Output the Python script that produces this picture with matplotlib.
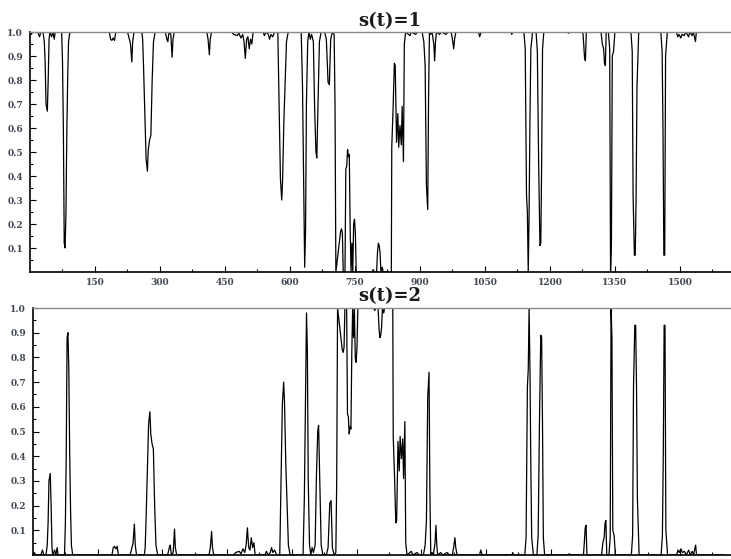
import numpy as np
import matplotlib
matplotlib.use('Agg')
import matplotlib.pyplot as plt

# time index of the breakpoints
t_points = [
    0, 3, 6, 18, 22, 25, 30, 33, 35, 37, 40, 42, 44, 46, 50, 53, 56, 58,
    73, 75, 77, 79, 81, 83, 85, 87, 89, 92,
    183, 186, 189, 192, 195, 198, 225, 228, 232, 235, 237, 240,
    258, 260, 262, 265, 268, 271, 273, 276, 279, 282, 285, 289,
    312, 316, 318, 321, 325, 328, 330, 333, 408, 411, 414, 416, 419,
    465, 470, 478, 482, 487, 491, 494, 497, 500, 503, 506, 509, 512, 515,
    538, 541, 545, 550, 553, 556, 560, 565,
    572, 575, 578, 581, 583, 586, 589, 592, 596,
    626, 629, 632, 634, 636, 638, 641, 644, 647, 650,
    654, 657, 660, 662, 665, 668, 672, 680, 684, 688, 691, 694, 698,
    702, 704, 706, 717, 719, 721, 723, 727, 729, 731, 733, 735, 737,
    739, 741, 743, 745, 747, 749, 751, 753, 790, 792, 795,
    800, 802, 804, 806, 808, 810, 813, 815,
    834, 835, 838, 841, 843, 846, 849, 851, 854, 857, 859, 862, 864, 867,
    877, 880, 890, 895, 905, 909, 912, 915, 918, 920, 922, 925, 928,
    932, 934, 936, 938, 945, 950, 960, 965, 972, 975, 978, 980, 983,
    1035, 1038, 1041, 1110, 1112, 1114,
    1140, 1143, 1146, 1148, 1150, 1152, 1154, 1156, 1160,
    1168, 1171, 1174, 1177, 1179, 1181, 1183, 1186,
    1240, 1243, 1246, 1276, 1278, 1280, 1282, 1284,
    1318, 1321, 1324, 1326, 1328, 1330,
    1335, 1338, 1340, 1342, 1344, 1347, 1350,
    1387, 1390, 1392, 1395, 1397, 1399, 1401, 1405,
    1456, 1459, 1461, 1463, 1465, 1467, 1471,
    1492, 1495, 1498, 1502, 1505, 1510, 1514, 1520, 1523, 1528, 1531,
    1536, 1538, 1600,
]

# probability of regime s(t)=1
prob_s1 = [
    1.0, 0.99, 1.0, 1.0, 0.98, 1.0, 1.0, 0.96, 0.87, 0.70, 0.67, 0.80, 0.97, 1.0, 0.98, 1.0, 0.97, 1.0,
    1.0, 0.88, 0.60, 0.12, 0.10, 0.25, 0.58, 0.81, 0.96, 1.0,
    1.0, 0.97, 0.965, 0.975, 0.965, 1.0, 1.0, 0.98, 0.95, 0.875, 0.96, 1.0,
    1.0, 0.97, 0.86, 0.66, 0.47, 0.42, 0.51, 0.55, 0.57, 0.80, 0.96, 1.0,
    1.0, 0.97, 0.96, 1.0, 0.99, 0.895, 0.97, 1.0, 1.0, 0.97, 0.905, 0.97, 1.0,
    1.0, 0.99, 0.985, 0.995, 0.975, 0.99, 0.96, 0.89, 0.97, 0.98, 0.93, 0.97, 0.95, 1.0,
    1.0, 0.985, 1.0, 0.99, 0.97, 0.99, 0.98, 1.0,
    1.0, 0.70, 0.39, 0.30, 0.38, 0.63, 0.80, 0.96, 1.0,
    1.0, 0.77, 0.30, 0.02, 0.17, 0.70, 0.96, 1.0, 0.97, 0.99,
    0.96, 0.68, 0.50, 0.475, 0.72, 0.96, 1.0, 1.0, 0.97, 0.79, 0.78, 0.97, 1.0,
    0.99, 0.70, 0.0, 0.17, 0.18, 0.16, 0.0, 0.0, 0.43, 0.44, 0.51, 0.48, 0.49,
    0.18, 0.0, 0.12, 0.0, 0.20, 0.22, 0.16, 0.0, 0.0, 0.01, 0.0,
    0.0, 0.08, 0.12, 0.11, 0.08, 0.0, 0.02, 0.0,
    0.0, 0.52, 0.68, 0.87, 0.86, 0.54, 0.66, 0.52, 0.61, 0.53, 0.69, 0.46, 0.95, 1.0,
    0.985, 1.0, 0.99, 1.0, 1.0, 0.96, 0.86, 0.36, 0.26, 0.74, 1.0, 0.99, 1.0,
    0.95, 0.88, 0.96, 1.0, 0.99, 1.0, 0.99, 1.0, 1.0, 0.97, 0.93, 0.97, 1.0,
    1.0, 0.98, 1.0, 1.0, 0.99, 1.0,
    1.0, 0.93, 0.32, 0.25, 0.0, 0.25, 0.64, 0.93, 1.0,
    1.0, 0.92, 0.46, 0.11, 0.12, 0.46, 0.93, 1.0,
    1.0, 0.995, 1.0, 1.0, 0.95, 0.89, 0.88, 1.0,
    1.0, 0.95, 0.93, 0.87, 0.86, 1.0,
    1.0, 0.93, 0.0, 0.12, 0.90, 0.92, 1.0,
    1.0, 0.92, 0.32, 0.07, 0.07, 0.32, 0.77, 1.0,
    1.0, 0.92, 0.60, 0.07, 0.07, 0.90, 1.0,
    1.0, 0.98, 0.99, 0.975, 0.99, 0.985, 1.0, 0.98, 1.0, 0.985, 1.0,
    0.96, 1.0, 1.0,
]

# probability of regime s(t)=2
prob_s2 = [
    0.0, 0.01, 0.0, 0.0, 0.02, 0.0, 0.0, 0.04, 0.13, 0.30, 0.33, 0.20, 0.03, 0.0, 0.02, 0.0, 0.03, 0.0,
    0.0, 0.12, 0.40, 0.88, 0.90, 0.75, 0.42, 0.19, 0.04, 0.0,
    0.0, 0.03, 0.035, 0.025, 0.035, 0.0, 0.0, 0.02, 0.05, 0.125, 0.04, 0.0,
    0.0, 0.03, 0.14, 0.34, 0.53, 0.58, 0.49, 0.45, 0.43, 0.20, 0.04, 0.0,
    0.0, 0.03, 0.04, 0.0, 0.01, 0.105, 0.03, 0.0, 0.0, 0.03, 0.095, 0.03, 0.0,
    0.0, 0.01, 0.015, 0.005, 0.025, 0.01, 0.04, 0.11, 0.03, 0.02, 0.07, 0.03, 0.05, 0.0,
    0.0, 0.015, 0.0, 0.01, 0.03, 0.01, 0.02, 0.0,
    0.0, 0.30, 0.61, 0.70, 0.62, 0.37, 0.20, 0.04, 0.0,
    0.0, 0.23, 0.70, 0.98, 0.83, 0.30, 0.04, 0.0, 0.03, 0.01,
    0.04, 0.32, 0.50, 0.525, 0.28, 0.04, 0.0, 0.0, 0.03, 0.21, 0.22, 0.03, 0.0,
    0.01, 0.30, 1.0, 0.83, 0.82, 0.84, 1.0, 1.0, 0.57, 0.56, 0.49, 0.52, 0.51,
    0.82, 1.0, 0.88, 1.0, 0.80, 0.78, 0.84, 1.0, 1.0, 0.99, 1.0,
    1.0, 0.92, 0.88, 0.89, 0.92, 1.0, 0.98, 1.0,
    1.0, 0.48, 0.32, 0.13, 0.14, 0.46, 0.34, 0.48, 0.39, 0.47, 0.31, 0.54, 0.05, 0.0,
    0.015, 0.0, 0.01, 0.0, 0.0, 0.04, 0.14, 0.64, 0.74, 0.26, 0.0, 0.01, 0.0,
    0.05, 0.12, 0.04, 0.0, 0.01, 0.0, 0.01, 0.0, 0.0, 0.03, 0.07, 0.03, 0.0,
    0.0, 0.02, 0.0, 0.0, 0.01, 0.0,
    0.0, 0.07, 0.68, 0.75, 1.0, 0.75, 0.36, 0.07, 0.0,
    0.0, 0.08, 0.54, 0.89, 0.88, 0.54, 0.07, 0.0,
    0.0, 0.005, 0.0, 0.0, 0.05, 0.11, 0.12, 0.0,
    0.0, 0.05, 0.07, 0.13, 0.14, 0.0,
    0.0, 0.07, 1.0, 0.88, 0.10, 0.08, 0.0,
    0.0, 0.08, 0.68, 0.93, 0.93, 0.68, 0.23, 0.0,
    0.0, 0.08, 0.40, 0.93, 0.93, 0.10, 0.0,
    0.0, 0.02, 0.01, 0.025, 0.01, 0.015, 0.0, 0.02, 0.0, 0.015, 0.0,
    0.04, 0.0, 0.0,
]

x_ticks = [150, 300, 450, 600, 750, 900, 1050, 1200, 1350, 1500]
y_ticks = [0.1, 0.2, 0.3, 0.4, 0.5, 0.6, 0.7, 0.8, 0.9, 1.0]
titles = ['s(t)=1', 's(t)=2']

W, H = 731, 559
LABEL_COLOR = '#3f4650'


def style_axis(ax, show_xlabels):
    ax.set_xlim(0, 1618)
    ax.set_ylim(0, 1)
    ax.set_xticks(x_ticks)
    ax.set_xticks(np.arange(75, 1618, 150), minor=True)
    ax.set_yticks(y_ticks)
    ax.set_yticklabels([f'{v:.1f}' for v in y_ticks])
    ax.set_yticks(np.arange(0.05, 1.0, 0.1), minor=True)
    ax.tick_params(which='both', direction='in', color='black', width=0.8,
                   labelsize=6.5, labelcolor=LABEL_COLOR, pad=5)
    ax.tick_params(which='major', length=4)
    ax.tick_params(which='minor', length=2)
    ax.tick_params(axis='x', labelbottom=show_xlabels, pad=4)
    for lab in ax.get_xticklabels() + ax.get_yticklabels():
        lab.set_family('DejaVu Serif')
        lab.set_weight('bold')
    ax.spines['right'].set_visible(False)
    ax.spines['top'].set_color('#8a8a8a')
    ax.spines['top'].set_linewidth(1.0)
    ax.spines['left'].set_linewidth(1.2)
    ax.spines['bottom'].set_linewidth(1.2)


def main():
    fig = plt.figure(figsize=(W / 100, H / 100), dpi=100)

    # panel rectangles in pixels: left, top (value 1.0), bottom (value 0)
    panels = [(30, 32, 272), (33, 308, 555)]
    series = [prob_s1, prob_s2]
    title_y = [21, 296]

    for i, (left, top, bottom) in enumerate(panels):
        ax = fig.add_axes([left / W, 1 - bottom / H, (W - left) / W, (bottom - top) / H])
        ax.plot(t_points, series[i], color='black', linewidth=0.9)
        style_axis(ax, show_xlabels=(i == 0))
        fig.text(390 / W, 1 - title_y[i] / H, titles[i], ha='center', va='center',
                 family='DejaVu Serif', weight='bold', fontsize=13, color='#1a1a1a')

    fig.savefig('out.png', dpi=100)
    plt.close(fig)


if __name__ == '__main__':
    main()
